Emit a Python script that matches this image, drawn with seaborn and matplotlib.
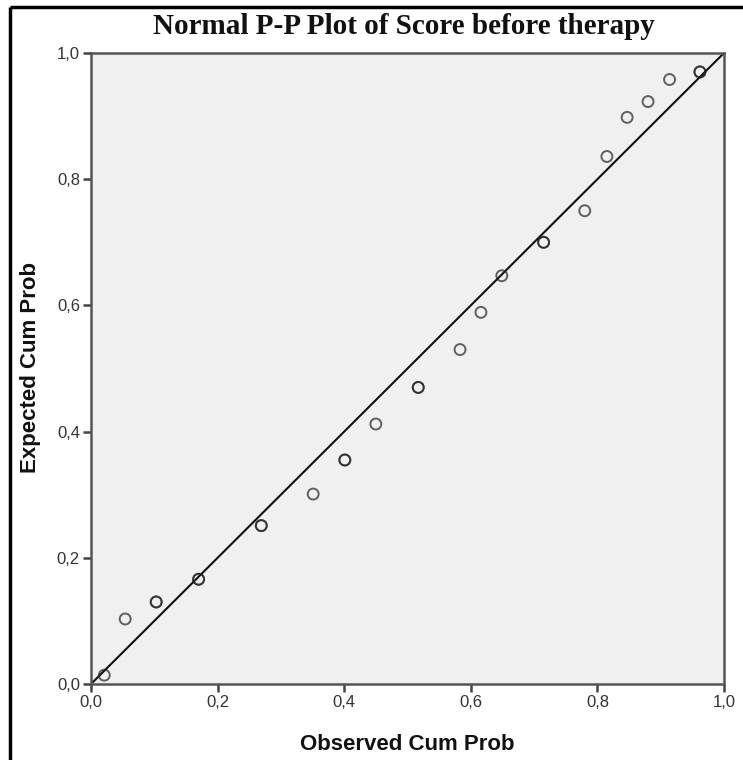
import matplotlib
matplotlib.use("Agg")
import matplotlib.pyplot as plt
from matplotlib.lines import Line2D
import seaborn as sns
import pandas as pd

observed = [0.021, 0.054, 0.103, 0.170, 0.269, 0.351, 0.401, 0.450, 0.517, 0.583,
            0.616, 0.649, 0.715, 0.780, 0.815, 0.847, 0.880, 0.914, 0.962]
expected = [0.014, 0.103, 0.130, 0.166, 0.251, 0.301, 0.355, 0.412, 0.470, 0.530,
            0.589, 0.647, 0.700, 0.750, 0.836, 0.898, 0.923, 0.958, 0.970]
counts = [1, 1, 2, 2, 2, 1, 2, 1, 2, 1, 1, 1, 2, 1, 1, 1, 1, 1, 2]
ticks = [0.0, 0.2, 0.4, 0.6, 0.8, 1.0]
tick_labels = ["0,0", "0,2", "0,4", "0,6", "0,8", "1,0"]
ref_line = [0.0, 1.0]

rows = []
for o, e, c in zip(observed, expected, counts):
    for _ in range(c):
        rows.append({"Observed": o, "Expected": e})
df = pd.DataFrame(rows)
line_df = pd.DataFrame({"x": ref_line, "y": ref_line})

sns.set_style("white")
plt.rcParams["font.family"] = ["Liberation Sans", "DejaVu Sans"]

fig = plt.figure(figsize=(7.43, 7.6), dpi=100)
ax = fig.add_axes([91 / 743, 1 - 684 / 760, (724 - 91) / 743, (684 - 53) / 760])
ax.set_facecolor("#f0f0f0")

sns.lineplot(data=line_df, x="x", y="y", ax=ax, color="#111111", linewidth=1.5, zorder=2)
sns.scatterplot(data=df, x="Observed", y="Expected", ax=ax, marker="o", s=62,
                facecolor="none", edgecolor="#222222", linewidth=1.4, alpha=0.7, zorder=3)

ax.set_xlim(0, 1)
ax.set_ylim(0, 1)
ax.set_xticks(ticks)
ax.set_xticklabels(tick_labels)
ax.set_yticks(ticks)
ax.set_yticklabels(tick_labels)
ax.tick_params(axis="both", which="both", direction="out", length=6, width=1.8,
               color="#444444", labelcolor="#333333", labelsize=12, pad=2,
               bottom=True, left=True)
for side in ["left", "bottom", "top", "right"]:
    ax.spines[side].set_visible(True)
    ax.spines[side].set_color("#555555")
    ax.spines[side].set_linewidth(1.8)

ax.set_xlabel("")
ax.set_ylabel("")
fig.text((91 + 724) / 2 / 743, 1 - 745 / 760, "Observed Cum Prob", ha="center", va="center",
         fontsize=16, fontweight="bold", color="#111111")
fig.text(31 / 743, 1 - 368 / 760, "Expected Cum Prob", ha="center", va="center",
         rotation=90, fontsize=16, fontweight="bold", color="#111111")
fig.text(404 / 743, 1 - 26 / 760, "Normal P-P Plot of Score before therapy",
         ha="center", va="center", fontsize=21, fontweight="bold",
         family=["Liberation Serif", "DejaVu Serif"], color="#111111")

fig.add_artist(Line2D([10 / 743, 10 / 743], [0, 1 - 7 / 760], transform=fig.transFigure,
                      color="black", linewidth=2.5, solid_capstyle="butt"))
fig.add_artist(Line2D([10 / 743, 1], [1 - 7 / 760, 1 - 7 / 760], transform=fig.transFigure,
                      color="black", linewidth=2.5, solid_capstyle="butt"))

fig.savefig("out.png", dpi=100)
